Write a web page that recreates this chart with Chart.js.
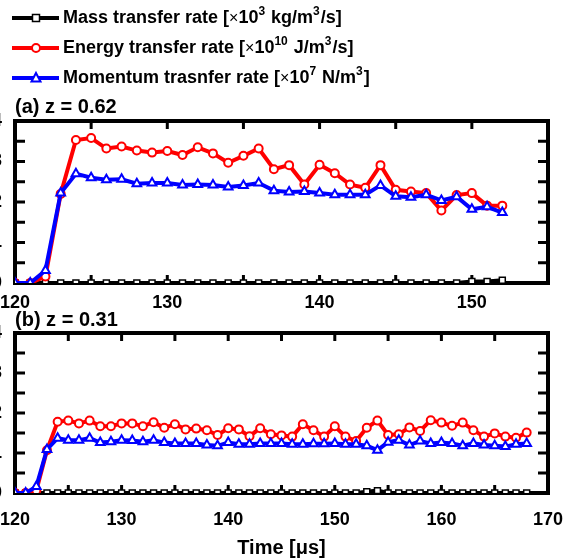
<!DOCTYPE html>
<html>
<head>
<meta charset="utf-8">
<script src="https://cdn.jsdelivr.net/npm/chart.js@4.4.1/dist/chart.umd.min.js"></script>
<style>
  body { margin: 0; background: #fff; }
  canvas { position: absolute; left: 0; }
</style>
</head>
<body>
<canvas id="chartA" width="574" height="314" style="top:0"></canvas>
<canvas id="chartB" width="574" height="252" style="top:308px"></canvas>
<script>
'use strict';

var seriesLabels = [
  'Mass transfer rate [\u00d710\u00b3 kg/m\u00b3/s]',
  'Energy transfer rate [\u00d710\u00b9\u2070 J/m\u00b3/s]',
  'Momentum trasnfer rate [\u00d710\u2077 N/m\u00b3]'
];
var panelTitles = ['(a) z = 0.62', '(b) z = 0.31'];
var xTitle = 'Time [\u03bcs]';

// panel (a)
var timeA = [120, 121, 122, 123, 124, 125, 126, 127, 128, 129, 130, 131, 132, 133, 134, 135, 136,
  137, 138, 139, 140, 141, 142, 143, 144, 145, 146, 147, 148, 149, 150, 151, 152];
var massA = [0, 0, 0, 0, 0, 0, 0, 0, 0, 0, 0, 0, 0, 0, 0, 0, 0,
  0, 0, 0, 0, 0, 0, 0, 0, 0, 0, 0, 0, 0, 0.04, 0.04, 0.07];
var energyA = [0, 0, 0.16, 2.2, 3.53, 3.58, 3.32, 3.37, 3.27, 3.22, 3.26, 3.16, 3.35, 3.2, 2.97, 3.14, 3.32,
  2.81, 2.91, 2.43, 2.92, 2.71, 2.43, 2.35, 2.91, 2.3, 2.26, 2.22, 1.79, 2.17, 2.22, 1.91, 1.91];
var momentumA = [0, 0, 0.31, 2.22, 2.7, 2.6, 2.55, 2.56, 2.45, 2.47, 2.47, 2.42, 2.43, 2.42, 2.37, 2.41, 2.47,
  2.28, 2.25, 2.26, 2.22, 2.18, 2.18, 2.18, 2.41, 2.14, 2.12, 2.18, 2.04, 2.13, 1.82, 1.88, 1.74];

// panel (b)
var timeB = [120, 121, 122, 123, 124, 125, 126, 127, 128, 129, 130, 131, 132, 133, 134, 135, 136,
  137, 138, 139, 140, 141, 142, 143, 144, 145, 146, 147, 148, 149, 150, 151, 152,
  153, 154, 155, 156, 157, 158, 159, 160, 161, 162, 163, 164, 165, 166, 167, 168];
var massB = [0, 0, 0, 0, 0, 0, 0, 0, 0, 0, 0, 0, 0, 0, 0, 0, 0,
  0, 0, 0, 0, 0, 0, 0, 0, 0, 0, 0, 0, 0, 0, 0, 0,
  0.03, 0.06, 0, 0, 0, 0, 0, 0, 0, 0, 0, 0, 0, 0, 0, 0];
var energyB = [0, 0, 0.06, 1.07, 1.78, 1.81, 1.74, 1.81, 1.67, 1.67, 1.74, 1.74, 1.67, 1.77, 1.63, 1.72, 1.59,
  1.61, 1.57, 1.45, 1.62, 1.59, 1.42, 1.62, 1.47, 1.44, 1.41, 1.72, 1.57, 1.41, 1.67, 1.41, 1.3,
  1.63, 1.81, 1.45, 1.47, 1.64, 1.55, 1.82, 1.76, 1.68, 1.76, 1.57, 1.41, 1.49, 1.41, 1.38, 1.51];
var momentumB = [0, 0, 0.16, 1.09, 1.37, 1.32, 1.32, 1.37, 1.26, 1.28, 1.32, 1.31, 1.28, 1.32, 1.26, 1.24, 1.24,
  1.24, 1.2, 1.18, 1.26, 1.22, 1.22, 1.24, 1.24, 1.24, 1.22, 1.22, 1.23, 1.23, 1.24, 1.22, 1.22,
  1.18, 1.07, 1.27, 1.32, 1.2, 1.3, 1.24, 1.26, 1.24, 1.18, 1.24, 1.2, 1.18, 1.16, 1.22, 1.24];

var colors = ['#000000', '#ff0000', '#0000ff'];
var markers = ['rect', 'circle', 'triangle'];

var FONT = "'Liberation Sans', Arial, sans-serif";
Chart.defaults.font.family = FONT;
Chart.defaults.font.weight = 'bold';
Chart.defaults.color = '#000';

function points(xs, ys){
  return xs.map(function(x, i){ return {x: x, y: ys[i]}; });
}

function makeSets(t, mass, energy, mom){
  return [
    {label: seriesLabels[0], data: points(t, mass), borderColor: colors[0], pointBorderColor: colors[0],
      pointBackgroundColor: '#fff', pointStyle: markers[0], pointRadius: 4.2, pointBorderWidth: 1.5,
      borderWidth: 4, order: 2},
    {label: seriesLabels[1], data: points(t, energy), borderColor: colors[1], pointBorderColor: colors[1],
      pointBackgroundColor: '#fff', pointStyle: markers[1], pointRadius: 4, pointBorderWidth: 2,
      borderWidth: 4, order: 1},
    {label: seriesLabels[2], data: points(t, mom), borderColor: colors[2], pointBorderColor: colors[2],
      pointBackgroundColor: '#fff', pointStyle: markers[2], pointRadius: 5, pointBorderWidth: 2,
      borderWidth: 4, order: 0}
  ];
}

// little line + marker pictures for the legend
var iconCache = {};
function legendIcon(i){
  if (iconCache[i]) return iconCache[i];
  var c = document.createElement('canvas');
  c.width = 54; c.height = 16;
  var g = c.getContext('2d');
  g.strokeStyle = colors[i];
  g.lineWidth = 4;
  g.beginPath(); g.moveTo(6, 8); g.lineTo(53, 8); g.stroke();
  g.fillStyle = '#fff';
  g.lineWidth = 2;
  g.beginPath();
  if (markers[i] === 'rect') {
    g.lineWidth = 1.5;
    g.rect(26.5, 4.5, 7, 7);
  } else if (markers[i] === 'circle') {
    g.arc(30, 8, 4, 0, Math.PI * 2);
  } else {
    g.moveTo(30, 3); g.lineTo(34.5, 11.5); g.lineTo(25.5, 11.5); g.closePath();
  }
  g.fill(); g.stroke();
  iconCache[i] = c;
  return c;
}

// legend text with real superscripts (Chart.js legend keeps the layout and icons)
var supDigits = {'\u00b3': '3', '\u00b9': '1', '\u2070': '0', '\u2077': '7'};
function drawRich(ctx, text, x, y){
  var runs = [], cur = null;
  for (var i = 0; i < text.length; i++) {
    var ch = text[i];
    var kind = supDigits[ch] ? 's' : (ch === '\u00d7' ? 'x' : 'n');
    var out = supDigits[ch] || ch;
    if (!cur || cur.kind !== kind) { cur = {kind: kind, text: ''}; runs.push(cur); }
    cur.text += out;
  }
  ctx.textBaseline = 'middle';
  ctx.textAlign = 'left';
  ctx.fillStyle = '#000';
  runs.forEach(function(r){
    var dy = 0;
    if (r.kind === 's') { ctx.font = 'bold 12px ' + FONT; dy = -6; }
    else if (r.kind === 'x') { ctx.font = '16px ' + FONT; dy = 1; }
    else { ctx.font = 'bold 18px ' + FONT; }
    ctx.fillText(r.text, x, y + dy);
    x += ctx.measureText(r.text).width + (r.kind === 's' ? 1 : 0);
  });
}

var richLegend = {
  id: 'richLegend',
  afterDraw: function(chart){
    var lg = chart.legend;
    if (!lg || !lg.options.display || !lg.legendHitBoxes) return;
    var ctx = chart.ctx;
    ctx.save();
    lg.legendItems.forEach(function(item, i){
      var hb = lg.legendHitBoxes[i];
      drawRich(ctx, item.text, hb.left + 42 + 9, hb.top + 9);
    });
    ctx.restore();
  }
};

// box round the plot with inward ticks
var framePlugin = {
  id: 'frame',
  beforeDatasetsDraw: function(chart, args, opts){
    var ctx = chart.ctx, a = chart.chartArea, x = chart.scales.x, y = chart.scales.y;
    var v;
    ctx.save();
    ctx.strokeStyle = '#000';
    ctx.lineWidth = 3;
    ctx.beginPath();
    for (v = y.min + opts.yStep; v < y.max - 1e-9; v += opts.yStep) {
      var py = y.getPixelForValue(v);
      ctx.moveTo(a.left, py); ctx.lineTo(a.left + 10, py);
      ctx.moveTo(a.right, py); ctx.lineTo(a.right - 10, py);
    }
    for (v = x.min + opts.xStep; v < x.max - 1e-9; v += opts.xStep) {
      var px = x.getPixelForValue(v);
      ctx.moveTo(px, a.top); ctx.lineTo(px, a.top + 8);
      ctx.moveTo(px, a.bottom); ctx.lineTo(px, a.bottom - 8);
    }
    ctx.stroke();
    ctx.lineWidth = 4;
    ctx.strokeRect(a.left, a.top, a.width, a.height);
    ctx.restore();
  }
};

function makeOptions(xMax, withLegend, title, tickPad, xHeight, showXTitle){
  return {
    responsive: false,
    animation: false,
    layout: {padding: {top: withLegend ? -3 : 0, right: 26, left: 0, bottom: 0}},
    plugins: {
      tooltip: {enabled: false},
      frame: {xStep: 5, yStep: 0.5},
      legend: {
        display: withLegend,
        position: 'top',
        align: 'start',
        labels: {
          usePointStyle: true,
          pointStyleWidth: 42,
          padding: 12,
          color: 'rgba(0,0,0,0)',
          font: {size: 18, weight: 'bold'},
          generateLabels: function(chart){
            return chart.data.datasets.map(function(ds, i){
              return {text: ds.label, pointStyle: legendIcon(i), fillStyle: colors[i],
                strokeStyle: colors[i], lineWidth: 0, hidden: false, datasetIndex: i,
                fontColor: 'rgba(0,0,0,0)'};
            });
          }
        }
      },
      title: {
        display: true,
        text: title,
        align: 'start',
        fullSize: false,
        weight: 500,
        color: '#000',
        font: {size: 20, weight: 'bold'},
        padding: withLegend ? {top: -2, bottom: 2} : {top: 0, bottom: 1}
      }
    },
    scales: {
      x: {
        type: 'linear',
        min: 120,
        max: xMax,
        grid: {display: false, drawTicks: false},
        border: {display: false},
        ticks: {stepSize: 10, includeBounds: false, padding: tickPad, maxRotation: 0,
          color: '#000', font: {size: 18, weight: 'bold'}},
        title: {display: showXTitle, text: xTitle, color: '#000',
          font: {size: 20, weight: 'bold'}, padding: {top: 0, bottom: 0}},
        afterFit: function(s){ s.height = xHeight; s.paddingLeft = 0; s.paddingRight = 0; }
      },
      y: {
        min: 0,
        max: 4,
        grid: {display: false, drawTicks: false},
        border: {display: false},
        ticks: {stepSize: 1, padding: 13, color: '#000', font: {size: 18, weight: 'bold'}},
        afterFit: function(s){ s.width = 15; }
      }
    }
  };
}

new Chart(document.getElementById('chartA'), {
  type: 'line',
  data: {datasets: makeSets(timeA, massA, energyA, momentumA)},
  options: makeOptions(155, true, panelTitles[0], 9, 31, false),
  plugins: [framePlugin, richLegend]
});

new Chart(document.getElementById('chartB'), {
  type: 'line',
  data: {datasets: makeSets(timeB, massB, energyB, momentumB)},
  options: makeOptions(170, false, panelTitles[1], 16, 67, true),
  plugins: [framePlugin]
});
</script>
</body>
</html>
